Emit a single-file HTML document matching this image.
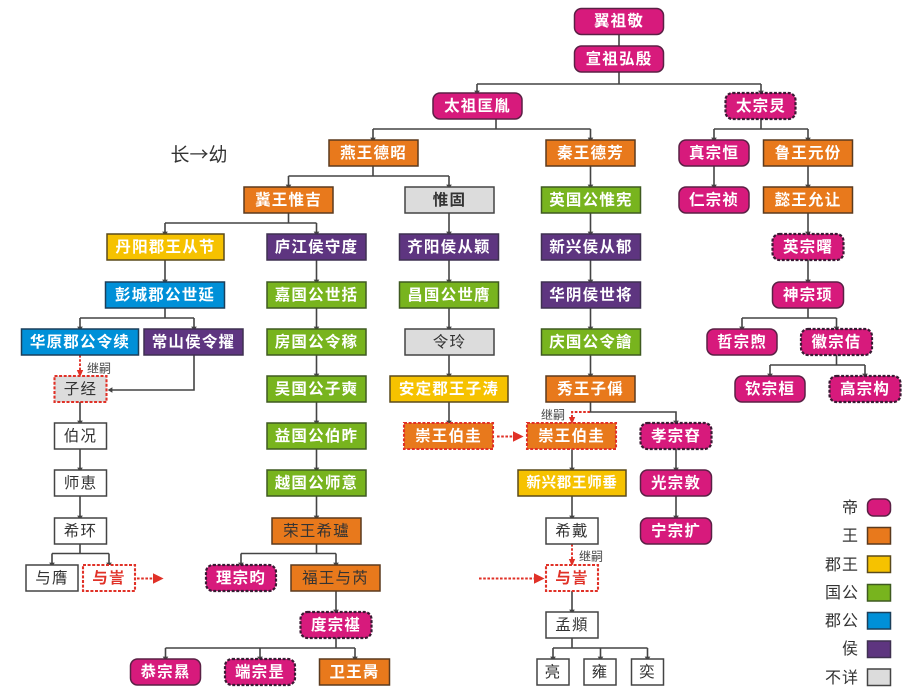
<!DOCTYPE html>
<html lang="zh">
<head>
<meta charset="utf-8">
<style>
html,body{margin:0;padding:0;background:#fff;width:922px;height:692px;overflow:hidden}
svg{display:block;filter:blur(.35px)}
text{font-family:"Liberation Sans","Noto Sans CJK SC",sans-serif;text-anchor:middle;dominant-baseline:central;transform:translateY(.7px)}
text.w{font-weight:700;fill:#fff;font-size:15.5px;letter-spacing:1.2px}
text.k{font-weight:400;fill:#333;font-size:15.5px;letter-spacing:1.2px}
text.kb{font-weight:700;fill:#333;font-size:15.5px;letter-spacing:1.2px}
text.r{font-weight:700;fill:#e03127;font-size:15.5px;letter-spacing:1.2px}
text.s{font-size:12px;fill:#444}
text.l{font-size:16px;fill:#333;text-anchor:end;letter-spacing:1px}
rect{stroke:#3f3f3f;stroke-width:1.5}
.p{fill:#d71a7c;stroke:#5a2145}
.pd{fill:#d71a7c;stroke:#3a1a34;stroke-width:2.2;stroke-dasharray:3 1.6}
.o{fill:#e8791c;stroke:#5b3a1e}
.y{fill:#f6c200;stroke:#5a4a1c}
.g{fill:#78b41e;stroke:#3f5a20}
.c{fill:#0090d8;stroke:#1b3f5a}
.v{fill:#5e3580;stroke:#3f3050}
.n{fill:#dcdcdc;stroke:#444}
.x{fill:#fff;stroke:#444}
.rd{stroke:#e03127;stroke-width:2.1;stroke-dasharray:3 1.6}
.line{fill:none;stroke:#444;stroke-width:1.6}
.red{fill:none;stroke:#e03127;stroke-width:1.9;stroke-dasharray:2.6 1.6}
</style>
</head>
<body>
<svg width="922" height="692" viewBox="0 0 922 692" xmlns="http://www.w3.org/2000/svg">
<defs>
<marker id="a" markerUnits="userSpaceOnUse" markerWidth="8" markerHeight="8" refX="3" refY="5" orient="auto-start-reverse" viewBox="0 0 6 10"><path d="M0 1.5L6 5L0 8.5z" fill="#444"/></marker>
<marker id="ar" markerUnits="userSpaceOnUse" markerWidth="12" markerHeight="12" refX="6" refY="5" orient="auto" viewBox="0 0 10 10"><path d="M0 0.5L9 5L0 9.5z" fill="#e03127"/></marker>
<marker id="as" markerUnits="userSpaceOnUse" markerWidth="8" markerHeight="8" refX="5" refY="5" orient="auto" viewBox="0 0 10 10"><path d="M0 1L9 5L0 9z" fill="#e03127"/></marker>
</defs>

<!-- connectors -->
<g class="line">
<path d="M619 34V46M619 72V84"/>
<path d="M477 84H761"/>
<path d="M477 84V93" marker-end="url(#a)"/><path d="M761 84V93" marker-end="url(#a)"/>
<path d="M496 119V129M373 129H590.5M373 129V140" marker-end="url(#a)"/><path d="M590.5 129V140" marker-end="url(#a)"/>
<path d="M761 119V129M714 129H808M714 129V140" marker-end="url(#a)"/><path d="M808 129V140" marker-end="url(#a)"/>
<path d="M714 166V187" marker-end="url(#a)"/><path d="M808 166V187" marker-end="url(#a)"/>
<path d="M808 213V234" marker-end="url(#a)"/><path d="M808 260V282" marker-end="url(#a)"/>
<path d="M808 308V318M742 318H836.5M742 318V329" marker-end="url(#a)"/><path d="M836.5 318V329" marker-end="url(#a)"/>
<path d="M836.5 355V365M770 365H865M770 365V376" marker-end="url(#a)"/><path d="M865 365V376" marker-end="url(#a)"/>
<path d="M373 166V176M288.5 176H449M288.5 176V187" marker-end="url(#a)"/><path d="M449 176V187" marker-end="url(#a)"/>
<path d="M288.5 213V223M165 223H316.5M165 223V234" marker-end="url(#a)"/><path d="M316.5 223V234" marker-end="url(#a)"/>
<path d="M449 213V234" marker-end="url(#a)"/><path d="M449 260V282" marker-end="url(#a)"/><path d="M449 308V329" marker-end="url(#a)"/><path d="M449 355V376" marker-end="url(#a)"/><path d="M449 402V423" marker-end="url(#a)"/>
<path d="M316.5 260V282" marker-end="url(#a)"/><path d="M316.5 308V329" marker-end="url(#a)"/><path d="M316.5 355V376" marker-end="url(#a)"/><path d="M316.5 402V423" marker-end="url(#a)"/><path d="M316.5 449V470" marker-end="url(#a)"/><path d="M316.5 496V518" marker-end="url(#a)"/>
<path d="M316.5 544V553.5M241 553.5H336M241 553.5V565" marker-end="url(#a)"/><path d="M336 553.5V565" marker-end="url(#a)"/>
<path d="M336 591V612" marker-end="url(#a)"/>
<path d="M336 638V648M165.5 648H355M165.5 648V659" marker-end="url(#a)"/><path d="M260 648V659" marker-end="url(#a)"/><path d="M355 648V659" marker-end="url(#a)"/>
<path d="M165 260V282" marker-end="url(#a)"/>
<path d="M165 308V318M80 318H194M80 318V329" marker-end="url(#a)"/><path d="M194 318V329" marker-end="url(#a)"/>
<path d="M194 355V390H110" marker-end="url(#a)"/>
<path d="M80 402V423" marker-end="url(#a)"/><path d="M80 449V470" marker-end="url(#a)"/><path d="M80 496V518" marker-end="url(#a)"/>
<path d="M80 544V553.5M52 553.5H109M52 553.5V565" marker-end="url(#a)"/><path d="M109 553.5V565" marker-end="url(#a)"/>
<path d="M590.5 166V187" marker-end="url(#a)"/><path d="M590.5 213V234" marker-end="url(#a)"/><path d="M590.5 260V282" marker-end="url(#a)"/><path d="M590.5 308V329" marker-end="url(#a)"/><path d="M590.5 355V376" marker-end="url(#a)"/>
<path d="M590.5 402V412H676V423" marker-end="url(#a)"/>
<path d="M572 449V470" marker-end="url(#a)"/><path d="M572 496V518" marker-end="url(#a)"/>
<path d="M572 591V612" marker-end="url(#a)"/>
<path d="M572 638V648M553 648H647.5M553 648V659" marker-end="url(#a)"/><path d="M600.5 648V659" marker-end="url(#a)"/><path d="M647.5 648V659" marker-end="url(#a)"/>
<path d="M676 449V470" marker-end="url(#a)"/><path d="M676 496V518" marker-end="url(#a)"/>
</g>
<g class="red">
<path d="M80 355V374" marker-end="url(#as)"/>
<path d="M590 412H572V421" marker-end="url(#as)"/>
<path d="M572 544V563" marker-end="url(#as)"/>
<path d="M137 578.5H160" marker-end="url(#ar)"/>
<path d="M497 436.5H520" marker-end="url(#ar)"/>
<path d="M479 578.5H541" marker-end="url(#ar)"/>
</g>

<!-- emperor -->
<rect class="p" x="574.5" y="8.5" width="89" height="26" rx="7"/><text class="w" x="619" y="21">翼祖敬</text>
<rect class="p" x="574.5" y="46" width="89" height="26" rx="7"/><text class="w" x="619" y="59">宣祖弘殷</text>
<rect class="p" x="433" y="93" width="89" height="26" rx="7"/><text class="w" x="477.5" y="106">太祖匡胤</text>
<rect class="pd" x="725.5" y="93" width="70" height="26" rx="7"/><text class="w" x="761" y="106">太宗炅</text>
<rect class="p" x="679" y="140" width="70" height="26" rx="7"/><text class="w" x="714" y="153">真宗恒</text>
<rect class="p" x="679" y="187" width="70" height="26" rx="7"/><text class="w" x="714" y="200">仁宗祯</text>
<rect class="pd" x="772.5" y="234" width="71" height="26" rx="7"/><text class="w" x="808" y="247">英宗曙</text>
<rect class="p" x="772.5" y="282" width="71" height="26" rx="7"/><text class="w" x="808" y="295">神宗顼</text>
<rect class="p" x="707" y="329" width="70" height="26" rx="7"/><text class="w" x="742" y="342">哲宗煦</text>
<rect class="pd" x="801" y="329" width="71" height="26" rx="7"/><text class="w" x="836.5" y="342">徽宗佶</text>
<rect class="p" x="735" y="376" width="70" height="26" rx="7"/><text class="w" x="770" y="389">钦宗桓</text>
<rect class="pd" x="829.5" y="376" width="71" height="26" rx="7"/><text class="w" x="865" y="389">高宗构</text>
<rect class="pd" x="640.5" y="423" width="71" height="26" rx="7"/><text class="w" x="676" y="436">孝宗昚</text>
<rect class="p" x="640.5" y="470" width="71" height="26" rx="7"/><text class="w" x="676" y="483">光宗敦</text>
<rect class="p" x="640.5" y="518" width="71" height="26" rx="7"/><text class="w" x="676" y="531">宁宗扩</text>
<rect class="pd" x="206" y="565" width="70" height="26" rx="7"/><text class="w" x="241" y="578">理宗昀</text>
<rect class="pd" x="300.5" y="612" width="71" height="26" rx="7"/><text class="w" x="336" y="625">度宗禥</text>
<rect class="p" x="130.5" y="659" width="70" height="26" rx="7"/><text class="w" x="165.5" y="672">恭宗㬎</text>
<rect class="pd" x="225" y="659" width="70" height="26" rx="7"/><text class="w" x="260" y="672">端宗昰</text>

<!-- wang -->
<rect class="o" x="329" y="140" width="89" height="26"/><text class="w" x="373.5" y="153">燕王德昭</text>
<rect class="o" x="546" y="140" width="89" height="26"/><text class="w" x="590.5" y="153">秦王德芳</text>
<rect class="o" x="763.5" y="140" width="89" height="26"/><text class="w" x="808" y="153">鲁王元份</text>
<rect class="o" x="244" y="187" width="89" height="26"/><text class="w" x="288.5" y="200">冀王惟吉</text>
<rect class="o" x="763.5" y="187" width="89" height="26"/><text class="w" x="808" y="200">懿王允让</text>
<rect class="o" x="546" y="376" width="89" height="26"/><text class="w" x="590.5" y="389">秀王子偁</text>
<rect class="o rd" x="404" y="423" width="89" height="26"/><text class="w" x="448.5" y="436">崇王伯圭</text>
<rect class="o rd" x="527" y="423" width="89" height="26"/><text class="w" x="571.5" y="436">崇王伯圭</text>
<rect class="o" x="272" y="518" width="89" height="26"/><text class="k" x="316.5" y="531">荣王希瓐</text>
<rect class="o" x="291" y="565" width="89" height="26"/><text class="k" x="335.5" y="578">福王与芮</text>
<rect class="o" x="319.5" y="659" width="70" height="26"/><text class="w" x="354.5" y="672">卫王昺</text>

<!-- junwang -->
<rect class="y" x="107" y="234" width="117" height="26"/><text class="w" x="165.5" y="247">丹阳郡王从节</text>
<rect class="y" x="390" y="376" width="118" height="26"/><text class="w" x="449" y="389">安定郡王子涛</text>
<rect class="y" x="518" y="470" width="108" height="26"/><text class="w" style="font-size:14.5px;letter-spacing:.7px" x="572" y="483">新兴郡王师垂</text>

<!-- guogong -->
<rect class="g" x="541.5" y="187" width="99" height="26"/><text class="w" x="591" y="200">英国公惟宪</text>
<rect class="g" x="267" y="282" width="99" height="26"/><text class="w" x="316.5" y="295">嘉国公世括</text>
<rect class="g" x="399.5" y="282" width="99" height="26"/><text class="w" x="449" y="295">昌国公世膺</text>
<rect class="g" x="267" y="329" width="99" height="26"/><text class="w" x="316.5" y="342">房国公令稼</text>
<rect class="g" x="541.5" y="329" width="99" height="26"/><text class="w" x="591" y="342">庆国公令譮</text>
<rect class="g" x="267" y="376" width="99" height="26"/><text class="w" x="316.5" y="389">吴国公子奭</text>
<rect class="g" x="267" y="423" width="99" height="26"/><text class="w" x="316.5" y="436">益国公伯昨</text>
<rect class="g" x="267" y="470" width="99" height="26"/><text class="w" x="316.5" y="483">越国公师意</text>

<!-- jungong -->
<rect class="c" x="105.5" y="282" width="119" height="26"/><text class="w" x="165" y="295">彭城郡公世延</text>
<rect class="c" x="21.5" y="329" width="117" height="26"/><text class="w" x="80" y="342">华原郡公令续</text>

<!-- hou -->
<rect class="v" x="267" y="234" width="99" height="26"/><text class="w" x="316.5" y="247">庐江侯守度</text>
<rect class="v" x="399.5" y="234" width="99" height="26"/><text class="w" x="449" y="247">齐阳侯从颖</text>
<rect class="v" x="541.5" y="234" width="99" height="26"/><text class="w" x="591" y="247">新兴侯从郁</text>
<rect class="v" x="541.5" y="282" width="99" height="26"/><text class="w" x="591" y="295">华阴侯世将</text>
<rect class="v" x="144" y="329" width="99" height="26"/><text class="w" x="193.5" y="342">常山侯令擢</text>

<!-- unknown -->
<rect class="n" x="405" y="187" width="89" height="26"/><text class="kb" x="449.5" y="200">惟固</text>
<rect class="n" x="405" y="329" width="89" height="26"/><text class="k" x="449.5" y="342">令玲</text>
<rect class="n rd" x="54.5" y="376" width="52" height="26"/><text class="k" x="80.5" y="389">子经</text>

<!-- plain -->
<rect class="x" x="54.5" y="423" width="52" height="26"/><text class="k" x="80.5" y="436">伯况</text>
<rect class="x" x="54.5" y="470" width="52" height="26"/><text class="k" x="80.5" y="483">师恵</text>
<rect class="x" x="54.5" y="518" width="52" height="26"/><text class="k" x="80.5" y="531">希环</text>
<rect class="x" x="26" y="565" width="52" height="26"/><text class="k" x="52" y="578">与膺</text>
<rect class="x rd" x="83" y="565" width="52" height="26"/><text class="r" x="109" y="578">与訔</text>
<rect class="x" x="546" y="518" width="52" height="26"/><text class="k" x="572" y="531">希戴</text>
<rect class="x rd" x="546" y="565" width="52" height="26"/><text class="r" x="572" y="578">与訔</text>
<rect class="x" x="546" y="612" width="52" height="26"/><text class="k" x="572" y="625">孟頫</text>
<rect class="x" x="537" y="659" width="32" height="26"/><text class="k" x="553" y="672">亮</text>
<rect class="x" x="584" y="659" width="32" height="26"/><text class="k" x="600" y="672">雍</text>
<rect class="x" x="631.5" y="659" width="32" height="26"/><text class="k" x="647.5" y="672">奕</text>

<!-- labels -->
<text class="s" x="99" y="368">继嗣</text>
<text class="s" x="553" y="414.5">继嗣</text>
<text class="s" x="591" y="556">继嗣</text>
<text x="199" y="153" style="font-size:19px;fill:#333;font-family:'Noto Sans CJK SC',sans-serif">长→幼</text>

<!-- legend -->
<text class="l" x="859" y="508">帝</text><rect class="p" x="867.5" y="499" width="23" height="17" rx="6"/>
<text class="l" x="859" y="536">王</text><rect class="o" x="867.5" y="527.5" width="23" height="16.5"/>
<text class="l" x="859" y="565">郡王</text><rect class="y" x="867.5" y="556" width="23" height="16.5"/>
<text class="l" x="859" y="593">国公</text><rect class="g" x="867.5" y="584.5" width="23" height="16.5"/>
<text class="l" x="859" y="621">郡公</text><rect class="c" x="867.5" y="612.5" width="23" height="16.5"/>
<text class="l" x="859" y="649">侯</text><rect class="v" x="867.5" y="641" width="23" height="16.5"/>
<text class="l" x="859" y="678">不详</text><rect class="n" x="867.5" y="669" width="23" height="16.5"/>
</svg>
</body>
</html>
